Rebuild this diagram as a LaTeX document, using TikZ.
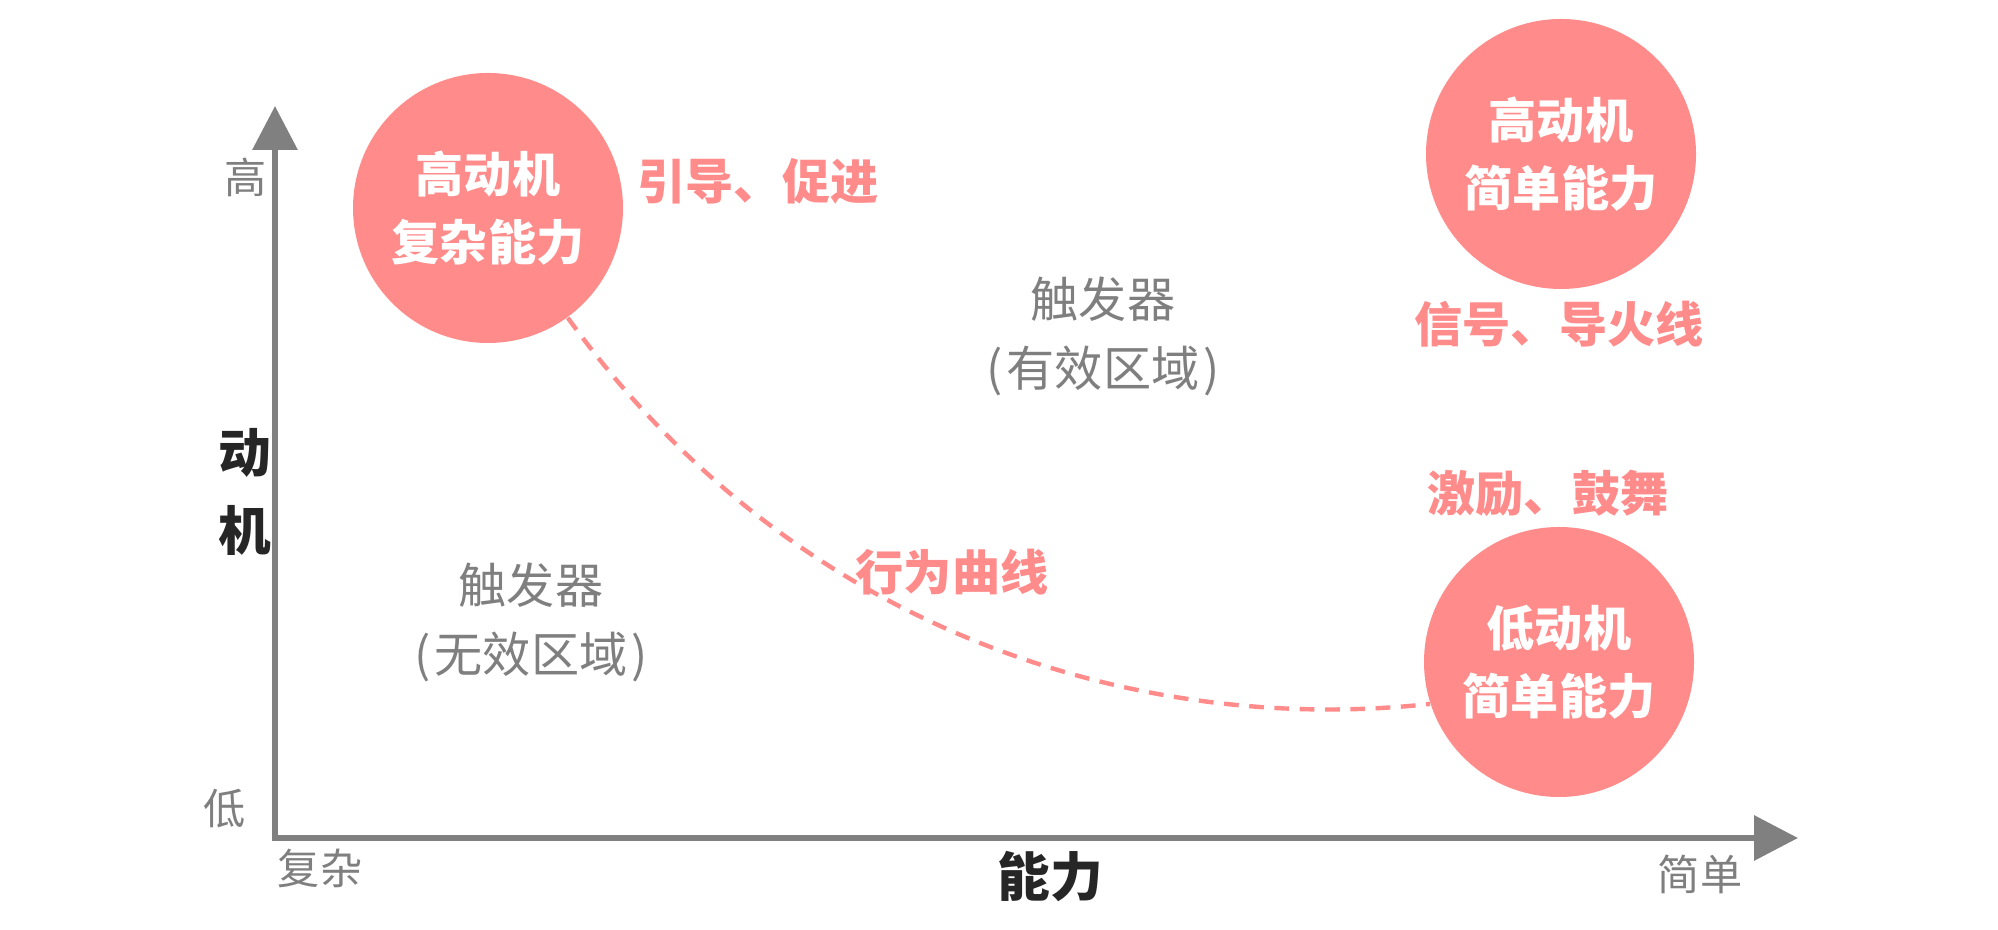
\documentclass[tikz,border=0pt]{standalone}
\usepackage{fontspec}
\setmainfont{Noto Sans CJK SC}
\usepackage{xcolor}
\usetikzlibrary{arrows.meta}
\definecolor{bubblepink}{HTML}{FF8B8B}
\definecolor{axisgray}{HTML}{808080}
\definecolor{textgray}{HTML}{7F7F7F}
\definecolor{titledark}{HTML}{262626}

\begin{document}
\begin{tikzpicture}[
  font=\fontsize{13.7pt}{19.5pt}\selectfont,
  bubble/.style={circle, fill=bubblepink, minimum size=2.70cm, inner sep=0pt, align=center, text=white, font=\fontsize{13.7pt}{19.3pt}\selectfont\bfseries},
  note/.style={inner sep=0pt, text=bubblepink, font=\fontsize{13.7pt}{19.5pt}\selectfont\bfseries},
  zone/.style={inner sep=0pt, align=center, text=textgray, font=\fontsize{13.7pt}{19.6pt}\selectfont},
  tick/.style={inner sep=0pt, text=textgray, font=\fontsize{12pt}{14pt}\selectfont},
  title/.style={inner sep=0pt, align=center, text=titledark, font=\fontsize{15pt}{22.2pt}\selectfont\bfseries},
  axis/.style={draw=axisgray, line width=1.85pt, line join=miter, {Triangle[length=0.44cm,width=0.44cm]}-{Triangle[length=0.44cm,width=0.44cm]}},
  curve/.style={draw=bubblepink, line width=1.25pt, dash pattern=on 4.2pt off 3pt}
]
\useasboundingbox (0,0) rectangle (19.98,9.30);
% 坐标轴
\coordinate (ytop) at (2.75,8.24);
\coordinate (orig) at (2.75,0.92);
\coordinate (xend) at (17.98,0.92);
\draw[axis] (ytop) -- (orig) -- (xend);
\node[tick] (hi) at (2.46,7.53) {高};
\node[tick] (lo) at (2.25,1.21) {低};
\node[tick] (cx) at (3.20,0.62) {复杂};
\node[tick] (sp) at (17.00,0.56) {简单};
\node[title] (mot) at (2.45,4.38) {动\\机};
\node[title] (abl) at (10.50,0.53) {能力};
% 三个圆
\node[bubble] (hc) at (4.88,7.22) {高动机\\复杂能力};
\node[bubble] (hs) at (15.61,7.76) {高动机\\简单能力};
\node[bubble] (ls) at (15.59,2.68) {低动机\\简单能力};
% 标注
\node[note] (guide) at (7.58,7.49) {引导、促进};
\node[note] (signal) at (15.59,6.06) {信号、导火线};
\node[note] (boost) at (15.48,4.37) {激励、鼓舞};
\node[note] (act) at (9.52,3.58) {行为曲线};
\node[zone] (valid) at (11.03,5.94) {触发器\\(\kern0.08em有效区域\kern0.08em)};
\node[zone] (invalid) at (5.31,3.08) {触发器\\(\kern0.08em无效区域\kern0.08em)};
% 行为曲线
\draw[curve] (hc.-54) .. controls (8.00,2.90) and (11.50,1.95) .. (ls.198);
\end{tikzpicture}
\end{document}
